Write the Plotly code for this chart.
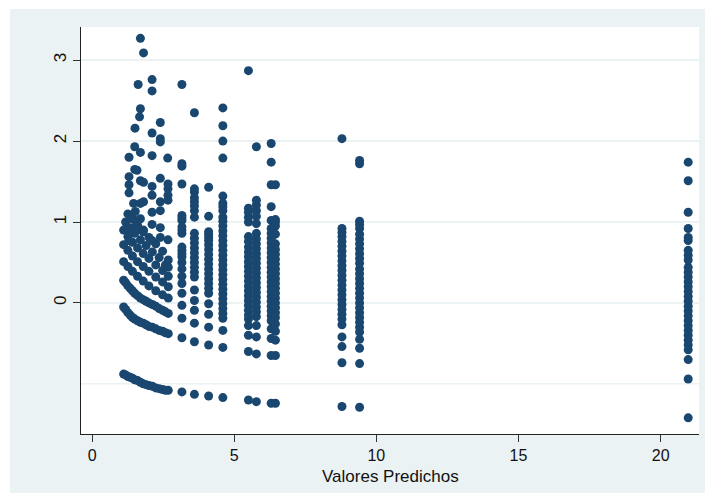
import plotly.graph_objects as go

# ---- Residuals vs. predicted values -------------------------------------
# Low-prediction cluster: residuals along the curves of each observed count
cluster_x = [
    # count 0
    1.11, 1.18, 1.26, 1.34, 1.42, 1.50, 1.60, 1.70, 1.80, 1.90, 2.00, 2.12, 2.24, 2.36, 2.48, 2.58, 2.68,
    # count 1
    1.11, 1.18, 1.26, 1.34, 1.42, 1.50, 1.60, 1.70, 1.80, 1.90, 2.00, 2.12, 2.24, 2.36, 2.48, 2.58, 2.68,
    # count 2
    1.11, 1.18, 1.26, 1.34, 1.42, 1.50, 1.60, 1.70, 1.80, 1.90, 2.00, 2.12, 2.24, 2.36, 2.48, 2.58, 2.68,
    # count 3
    1.11, 1.26, 1.42, 1.60, 1.80, 2.00, 2.24, 2.48, 2.68,
    # count 4
    1.11, 1.26, 1.42, 1.60, 1.80, 2.00, 2.24, 2.48, 2.68,
    # count 5
    1.11, 1.26, 1.42, 1.60, 1.80, 2.00, 2.24, 2.48, 2.68,
    # count 6
    1.18, 1.34, 1.50, 1.70, 1.90, 2.12, 2.36, 2.58, 2.68,
    # count 7
    1.26, 1.42, 1.60, 1.80, 2.00, 2.24, 2.48, 2.68,
    # higher counts
    1.70, 1.81, 1.62, 2.11, 2.11, 1.70, 1.67, 1.51, 2.40, 2.11, 2.40, 2.40,
    1.50, 1.70, 1.30, 2.11, 2.66, 1.50, 1.58, 1.30, 1.30, 1.30, 1.70, 1.81,
    2.11, 2.40, 2.67, 2.67, 2.67, 1.46, 1.70, 1.81, 2.11, 2.11, 2.40, 2.40,
    2.67, 1.52, 1.52, 1.70, 1.30, 1.30, 1.58, 1.81, 2.11, 2.11, 2.40, 2.40, 2.67,
]
cluster_y = [
    -0.88, -0.89, -0.91, -0.92, -0.93, -0.95, -0.96, -0.98, -1.00, -1.01, -1.02, -1.03, -1.05, -1.06, -1.07, -1.08, -1.08,
    -0.05, -0.08, -0.12, -0.15, -0.18, -0.20, -0.22, -0.24, -0.25, -0.27, -0.29, -0.30, -0.32, -0.34, -0.35, -0.37, -0.38,
    0.28, 0.25, 0.21, 0.18, 0.15, 0.12, 0.09, 0.06, 0.04, 0.02, 0.00, -0.02, -0.04, -0.07, -0.09, -0.11, -0.13,
    0.51, 0.45, 0.39, 0.33, 0.27, 0.21, 0.15, 0.10, 0.06,
    0.72, 0.65, 0.58, 0.51, 0.45, 0.39, 0.32, 0.26, 0.20,
    0.90, 0.82, 0.75, 0.68, 0.61, 0.55, 0.47, 0.40, 0.33,
    1.00, 0.93, 0.86, 0.78, 0.71, 0.63, 0.56, 0.47, 0.44,
    1.10, 1.04, 0.96, 0.88, 0.81, 0.73, 0.64, 0.53,
    3.27, 3.09, 2.70, 2.76, 2.62, 2.40, 2.30, 2.16, 2.23, 2.10, 2.03, 1.99,
    1.93, 1.86, 1.80, 1.82, 1.79, 1.65, 1.64, 1.56, 1.46, 1.36, 1.51, 1.49,
    1.44, 1.54, 1.47, 1.41, 1.33, 1.23, 1.23, 1.25, 1.33, 1.12, 1.25, 1.14,
    1.27, 1.13, 1.02, 1.04, 0.91, 0.77, 0.90, 0.90, 0.97, 0.77, 0.93, 0.81, 0.78,
]

# Discrete predicted values and the residuals observed at each of them
column_x = [3.16, 3.60, 4.10, 4.60, 5.50, 5.78, 6.30, 6.45, 8.79, 9.41, 20.97]
column_resid = [
    [-1.10, -0.43, -0.19, -0.03, 0.12, 0.24, 0.33, 0.42, 0.50, 0.57, 0.61, 0.65, 0.69,
     0.86, 0.90, 0.94, 1.02, 1.05, 1.08, 1.47, 1.69, 1.72, 2.70],
    [-1.13, -0.48, -0.25, -0.09, 0.03, 0.16, 0.32, 0.38, 0.44, 0.50, 0.56, 0.62, 0.68,
     0.74, 0.80, 0.86, 1.06, 1.14, 1.20, 1.25, 1.30, 1.37, 1.41, 2.35],
    [-1.15, -0.52, -0.30, -0.14, -0.01, 0.12, 0.18, 0.24, 0.30, 0.36, 0.42, 0.48, 0.54,
     0.60, 0.66, 0.72, 0.77, 0.81, 0.85, 0.88, 1.07, 1.43],
    [-1.17, -0.55, -0.34, -0.19, -0.13, -0.07, -0.01, 0.05, 0.11, 0.17, 0.23, 0.29, 0.35,
     0.41, 0.47, 0.53, 0.59, 0.65, 0.71, 0.77, 0.83, 0.89, 0.95, 1.01, 1.06, 1.14, 1.19,
     1.23, 1.32, 1.79, 2.00, 2.19, 2.41],
    [-1.20, -0.60, -0.40, -0.28, -0.20, -0.15, -0.09, -0.03, 0.03, 0.09, 0.15, 0.21, 0.27,
     0.33, 0.39, 0.45, 0.51, 0.57, 0.63, 0.69, 0.76, 0.82, 1.00, 1.06, 1.12, 1.17, 2.87],
    [-1.22, -0.63, -0.42, -0.28, -0.17, -0.11, -0.05, 0.01, 0.07, 0.13, 0.19, 0.25, 0.31,
     0.37, 0.43, 0.49, 0.55, 0.61, 0.67, 0.73, 0.79, 0.86, 0.98, 1.07, 1.14, 1.21, 1.27, 1.93],
    [-1.24, -0.65, -0.44, -0.32, -0.22, -0.16, -0.10, -0.04, 0.02, 0.08, 0.14, 0.20, 0.26,
     0.32, 0.38, 0.44, 0.50, 0.56, 0.62, 0.68, 0.74, 0.80, 0.86, 0.92, 1.02, 1.19, 1.46,
     1.74, 1.97],
    [-1.24, -0.65, -0.46, -0.35, -0.26, -0.18, -0.12, -0.06, 0.00, 0.06, 0.12, 0.18, 0.24,
     0.30, 0.36, 0.42, 0.48, 0.54, 0.60, 0.66, 0.73, 0.85, 0.95, 1.00, 1.03, 1.46],
    [-1.28, -0.74, -0.54, -0.42, -0.27, -0.20, -0.14, -0.08, -0.02, 0.04, 0.10, 0.16, 0.22,
     0.28, 0.34, 0.40, 0.46, 0.52, 0.58, 0.64, 0.70, 0.76, 0.82, 0.87, 0.92, 2.03],
    [-1.29, -0.75, -0.56, -0.45, -0.36, -0.30, -0.24, -0.18, -0.12, -0.06, 0.00, 0.06, 0.12,
     0.18, 0.24, 0.30, 0.36, 0.42, 0.49, 0.55, 0.61, 0.67, 0.73, 0.79, 0.85, 0.92, 0.97,
     1.01, 1.72, 1.76],
    [-1.42, -0.94, -0.70, -0.58, -0.52, -0.46, -0.40, -0.34, -0.28, -0.22, -0.16, -0.10,
     -0.04, 0.02, 0.08, 0.14, 0.20, 0.26, 0.32, 0.38, 0.44, 0.53, 0.59, 0.65, 0.77, 0.81,
     0.92, 1.12, 1.51, 1.74],
]

y_tick_vals = [0, 1, 2, 3]
x_tick_vals = [0, 5, 10, 15, 20]
x_title = "Valores Predichos"

# ---- assemble points --------------------------------------------------------
pred = list(cluster_x)
resid = list(cluster_y)
for cx, vals in zip(column_x, column_resid):
    pred += [cx] * len(vals)
    resid += vals

NAVY = "#1A476F"
RED = "#C10534"
REGION = "#EAF2F3"
FONT = "Liberation Sans, Arial, sans-serif"

W, H = 705, 495
ML, MR, MT, MB = 81, 6, 27, 61
pw, ph = W - ML - MR, H - MT - MB

def px_x(p):
    return (p - ML) / pw

def px_y(p):
    return (H - MB - p) / ph

fig = go.Figure()
fig.add_trace(go.Scatter(
    x=pred, y=resid, mode="markers",
    marker=dict(color=NAVY, size=9, line=dict(width=0)),
    hoverinfo="skip", showlegend=False,
))

shapes = [
    # gridline at -1 (unlabelled)
    dict(type="line", xref="paper", yref="y", x0=0, x1=1, y0=-1, y1=-1,
         line=dict(color=REGION, width=1.5), layer="below"),
    # reference line at zero
    dict(type="line", xref="paper", yref="y", x0=0, x1=1, y0=0, y1=0,
         line=dict(color=RED, width=1.8), layer="below"),
    # white frame outside the graph region
    dict(type="rect", xref="paper", yref="paper", x0=px_x(0), x1=px_x(10),
         y0=px_y(H), y1=px_y(0), fillcolor="white", line=dict(width=0), layer="above"),
    dict(type="rect", xref="paper", yref="paper", x0=px_x(0), x1=px_x(W),
         y0=px_y(9), y1=px_y(0), fillcolor="white", line=dict(width=0), layer="above"),
    dict(type="rect", xref="paper", yref="paper", x0=px_x(0), x1=px_x(W),
         y0=px_y(H), y1=px_y(493), fillcolor="white", line=dict(width=0), layer="above"),
]

fig.update_layout(
    width=W, height=H,
    margin=dict(l=ML, r=MR, t=MT, b=MB, pad=0),
    paper_bgcolor=REGION, plot_bgcolor="white",
    font=dict(family=FONT, size=17, color="#111"),
    shapes=shapes,
    annotations=[dict(
        text=x_title, xref="paper", yref="paper", x=0.5, y=px_y(476),
        xanchor="center", yanchor="middle", showarrow=False,
        font=dict(size=17),
    )],
    xaxis=dict(
        range=[-0.39, 21.35], tickvals=x_tick_vals,
        ticks="outside", ticklen=7, tickwidth=1, tickcolor="#333",
        showline=True, linecolor="#222", linewidth=1,
        showgrid=False, zeroline=False,
        tickfont=dict(size=16),
    ),
    yaxis=dict(
        range=[-1.62, 3.41], tickvals=y_tick_vals,
        ticks="outside", ticklen=7, tickwidth=1, tickcolor="#333",
        showline=True, linecolor="#222", linewidth=1,
        showgrid=True, gridcolor=REGION, gridwidth=1.5, zeroline=False,
        tickangle=-90, tickfont=dict(size=17),
    ),
)

fig.write_html("out.html")
